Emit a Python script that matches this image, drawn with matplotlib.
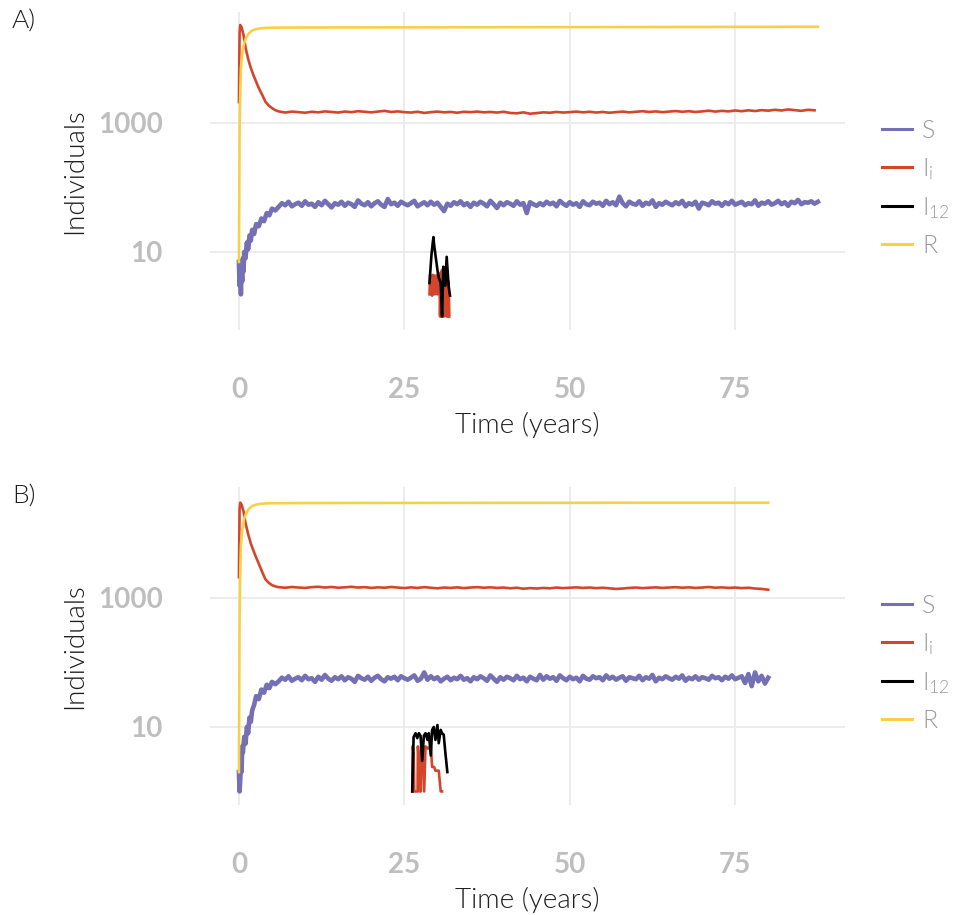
import numpy as np
import matplotlib
matplotlib.use("Agg")
import matplotlib.pyplot as plt
from matplotlib.lines import Line2D

plt.rcParams["font.family"] = ["Lato", "DejaVu Sans"]
plt.rcParams["mathtext.fontset"] = "custom"
plt.rcParams["mathtext.rm"] = "Lato:weight=300"
plt.rcParams["mathtext.it"] = "Lato:italic:weight=300"
LIGHT = 300   # Lato Light ('light' in mpl maps to 200 -> Thin)

# ---- panel A -------------------------------------------------------------
A_S_T0 = [0, 0.1, 0.2, 0.3, 0.4, 0.5, 0.6, 0.7, 0.8, 1.0, 1.2, 1.4, 1.6, 1.8,
          2.0, 2.3, 2.6, 3.0, 3.4, 3.8, 4.2, 4.6, 5.0, 5.5]
A_S_V0 = [7, 3, 6, 2.2, 5, 3.5, 8, 5, 10, 8, 14, 11, 18, 15,
          22, 19, 27, 25, 33, 30, 40, 37, 47, 44]
A_S_T1 = np.arange(6, 87.6, 0.5)       # half-year samples
A_S_V1 = [50, 57, 53, 60, 51, 55, 58, 52, 61, 54,
          56, 50, 59, 53, 62, 55, 49, 57, 54, 60,
          52, 58, 55, 50, 63, 56, 53, 59, 51, 57,
          61, 54, 50, 66, 55, 58, 52, 60, 56, 53,
          57, 62, 51, 55, 59, 53, 60, 54, 58, 50,
          43, 56, 52, 59, 55, 61, 53, 57, 50, 58,
          54, 60, 56, 51, 62, 55, 48, 58, 53, 59,
          56, 52, 61, 54, 57, 40, 59, 55, 52, 57,
          53, 60, 55, 58, 51, 62, 56, 52, 59, 54,
          57, 50, 61, 55, 53, 60, 56, 58, 52, 62,
          55, 59, 53, 72, 57, 51, 60, 56, 54, 61,
          52, 58, 55, 63, 50, 57, 54, 60, 56, 53,
          59, 55, 62, 51, 57, 54, 60, 47, 58, 56,
          53, 61, 56, 58, 52, 59, 55, 62, 54, 57,
          60, 53, 57, 55, 63, 52, 58, 56, 61, 54,
          57, 62, 55, 59, 52, 60, 57, 64, 55, 59,
          58, 61, 56, 60]

A_I_T0 = [0, 0.1, 0.2, 0.4, 0.7, 1.0, 1.4, 1.8, 2.2, 2.6, 3.0, 3.5, 4.0, 4.5, 5.0, 5.5]
A_I_V0 = [2100, 25000, 33000, 30500, 23000, 14800, 9800, 7100, 5500, 4360,
          3470, 2750, 2140, 1860, 1700, 1580]
A_I_T1 = np.arange(6, 88, 1)
A_I_V1 = [1510, 1450, 1500, 1470, 1440, 1490, 1460, 1510, 1480, 1450,
          1500, 1470, 1520, 1490, 1460, 1500, 1540, 1480, 1510, 1470,
          1450, 1490, 1430, 1470, 1500, 1460, 1480, 1440, 1490, 1470,
          1500, 1460, 1480, 1450, 1490, 1430, 1410, 1460, 1390, 1420,
          1460, 1440, 1480, 1450, 1470, 1500, 1460, 1490, 1450, 1480,
          1440, 1470, 1500, 1460, 1490, 1520, 1480, 1510, 1470, 1500,
          1530, 1490, 1520, 1480, 1510, 1550, 1500, 1540, 1510, 1560,
          1520, 1570, 1530, 1580, 1550, 1600, 1560, 1620, 1580, 1540,
          1600, 1570]

A_R_T = [0, 0.05, 0.1, 0.2, 0.3, 0.5, 0.8, 1.1, 1.5, 2.0, 2.6, 3.3, 4.0, 5, 7,
         10, 20, 40, 60, 80, 87.5]
A_R_V = [7, 60, 700, 3000, 7000, 12000, 17500, 21000, 24500, 27000, 28500,
         29300, 29700, 30000, 30100, 30200, 30300, 30500, 30700, 30900, 31000]

# second strain outbreak
A_I12_T = [28.8, 29.1, 29.3, 29.4, 29.5, 29.7, 30.0, 30.2, 30.5, 30.7, 30.9,
           31.2, 31.4, 31.7, 31.9]
A_I12_V = [3.3, 9, 14, 17, 13, 9, 5.3, 4, 3.3, 1, 5.9, 3, 8.4, 2.9, 2.1]
A_I2_T = [28.8, 28.9, 29.0, 29.1, 29.2, 29.3, 29.4, 29.5, 29.6, 29.7, 29.8,
          29.9, 30.0, 30.1, 30.2, 30.3, 30.4, 30.5, 30.6, 30.7, 30.8, 30.9,
          31.0, 31.1, 31.2, 31.3, 31.4, 31.5, 31.6, 31.7, 31.8]
A_I2_V = [2.2, 4.4, 2.3, 4.2, 2.1, 4.4, 2.4, 4.3, 2.2, 4.1, 2.3, 4.4, 2.2,
          4.0, 2.5, 4.3, 1, 4.8, 1, 5.3, 1, 4.5, 1, 5, 1.2, 4.6, 1, 4.2, 1, 3.5, 1]

# ---- panel B -------------------------------------------------------------
B_S_T0 = [0, 0.1, 0.2, 0.3, 0.4, 0.5, 0.6, 0.8, 1.0, 1.2, 1.4, 1.6, 1.8, 2.0,
          2.3, 2.6, 3.0, 3.4, 3.8, 4.2, 4.6, 5.0, 5.5]
B_S_V0 = [2, 1, 1.5, 3, 2, 5, 4, 7, 5.5, 10, 8, 14, 12, 18,
          22, 30, 27, 38, 34, 45, 40, 50, 46]
B_S_T1 = np.arange(6, 80.1, 0.5)
B_S_V1 = [51, 58, 54, 61, 52, 56, 59, 53, 62, 55,
          57, 50, 60, 54, 64, 56, 52, 59, 55, 61,
          53, 59, 56, 50, 62, 57, 54, 60, 52, 58,
          62, 55, 51, 59, 56, 60, 53, 61, 57, 54,
          58, 63, 52, 56, 70, 54, 61, 55, 59, 51,
          56, 60, 53, 58, 55, 62, 54, 57, 51, 59,
          55, 61, 57, 52, 63, 56, 50, 59, 54, 60,
          57, 53, 62, 55, 58, 51, 60, 56, 53, 64,
          54, 61, 56, 59, 52, 63, 57, 53, 60, 55,
          58, 51, 62, 56, 54, 61, 57, 59, 53, 63,
          56, 60, 54, 58, 61, 52, 59, 57, 55, 62,
          53, 59, 56, 64, 51, 58, 55, 61, 57, 54,
          60, 56, 63, 52, 58, 55, 61, 54, 59, 57,
          54, 62, 57, 59, 53, 60, 56, 63, 55, 58,
          61, 48, 66, 43, 70, 51, 62, 47, 58]

B_I_T0 = [0, 0.1, 0.2, 0.4, 0.7, 1.0, 1.4, 1.8, 2.2, 2.6, 3.0, 3.5, 4.0, 4.5, 5.0, 5.5]
B_I_V0 = [2100, 24000, 30000, 28000, 22000, 14500, 9700, 7000, 5400, 4250,
          3400, 2550, 1950, 1720, 1580, 1510]
B_I_T1 = np.arange(6, 81, 1)
B_I_V1 = [1470, 1440, 1480, 1450, 1430, 1470, 1490, 1450, 1480, 1440,
          1460, 1490, 1450, 1470, 1430, 1460, 1440, 1480, 1450, 1420,
          1460, 1430, 1470, 1440, 1410, 1450, 1430, 1460, 1420, 1450,
          1470, 1440, 1460, 1430, 1450, 1410, 1440, 1390, 1420, 1400,
          1430, 1410, 1450, 1420, 1440, 1460, 1430, 1450, 1420, 1440,
          1410, 1380, 1400, 1430, 1450, 1420, 1440, 1460, 1430, 1450,
          1470, 1440, 1460, 1430, 1450, 1480, 1440, 1460, 1430, 1450,
          1420, 1440, 1400, 1380, 1340]

B_R_T = [0, 0.05, 0.1, 0.2, 0.3, 0.5, 0.8, 1.1, 1.5, 2.0, 2.6, 3.3, 4.0, 5, 7,
         10, 20, 40, 60, 80]
B_R_V = [2, 30, 500, 2500, 6500, 11500, 17000, 20500, 24000, 26500, 28000,
         28800, 29200, 29400, 29500, 29600, 29700, 29800, 29900, 29900]

B_I12_T = [26.2, 26.4, 26.7, 26.95, 27.2, 27.45, 27.7, 27.95, 28.2, 28.5,
           28.7, 29.0, 29.2, 29.45, 29.7, 30.0, 30.2, 30.5, 30.7, 30.95, 31.2, 31.5]
B_I12_V = [1, 7, 8, 6.7, 8, 7.3, 3, 7.3, 8, 6.3, 8, 3.6, 9, 10, 6.3, 10.7,
           5.6, 9, 8, 7.6, 4, 2]
B_I2_T = [26.2, 26.25, 26.4, 26.5, 27.0, 27.05, 27.2, 27.3, 27.5, 27.55, 27.8,
          28.0, 28.2, 28.6, 29.0, 29.2, 29.5, 29.7, 30.2, 30.5, 30.7]
B_I2_V = [1, 5, 4, 1, 1, 5, 3, 1, 1, 5, 5, 1, 5, 4.6, 5, 2.4, 2.4, 2.1, 2.1, 1, 1]

C_S, C_I, C_I12, C_R = "#7570B3", "#D4462C", "#000000", "#F8D048"
GRID = "#EBEBEB"
TICK = "#BEBEBE"
LEG_TXT = "#9A9A9A"
DARK = "#1E1E1E"

PANELS = [
    ("A)", (A_S_T0, A_S_V0, A_S_T1, A_S_V1), (A_I_T0, A_I_V0, A_I_T1, A_I_V1),
     (A_R_T, A_R_V), (A_I12_T, A_I12_V), (A_I2_T, A_I2_V)),
    ("B)", (B_S_T0, B_S_V0, B_S_T1, B_S_V1), (B_I_T0, B_I_V0, B_I_T1, B_I_V1),
     (B_R_T, B_R_V), (B_I12_T, B_I12_V), (B_I2_T, B_I2_V)),
]


def _cat(parts):
    t0, v0, t1, v1 = parts
    return list(t0) + list(t1), list(v0) + list(v1)


fig = plt.figure(figsize=(9.54, 9.15), dpi=100)
W, H = 954, 915
tops = [12, 487]
for (tag, s, i, r, i12, i2), top in zip(PANELS, tops):
    ax = fig.add_axes([210 / W, 1 - (top + 318) / H, 635 / W, 318 / H])
    ax.set_yscale("log")
    st, sv = _cat(s)
    it, iv = _cat(i)
    lw = 1.9
    ax.plot(st, sv, color=C_S, lw=3.3, zorder=3)
    ax.plot(it, iv, color=C_I, lw=lw, zorder=3)
    ax.plot(i2[0], i2[1], color=C_I, lw=lw, zorder=3)
    ax.plot(i12[0], i12[1], color=C_I12, lw=lw, zorder=4)
    ax.plot(r[0], r[1], color=C_R, lw=lw, zorder=3)

    ax.set_xlim(-4.37, 91.6)
    ax.set_ylim(10 ** -0.21, 10 ** 4.72)
    ax.set_xticks([0, 25, 50, 75])
    ax.set_yticks([10, 1000])
    ax.set_yticklabels(["10", "1000"])
    ax.minorticks_off()
    ax.grid(True, color=GRID, lw=1.3)
    ax.set_axisbelow(True)
    for sp in ax.spines.values():
        sp.set_visible(False)
    ax.tick_params(length=0, pad=34, labelsize=20, labelcolor=TICK)
    for lab in ax.get_xticklabels() + ax.get_yticklabels():
        lab.set_fontweight("bold")
    ax.set_xlabel("Time (years)", fontsize=20, fontweight=LIGHT, color=DARK,
                  labelpad=6)
    ax.set_ylabel("Individuals", fontsize=20, fontweight=LIGHT, color=DARK,
                  labelpad=8)
    fig.text(12 / W, 1 - (top + 10) / H, tag, fontsize=19, fontweight=LIGHT,
             color=DARK, va="center", ha="left")

    handles = [Line2D([], [], color=c, lw=2.2) for c in (C_S, C_I, C_I12, C_R)]
    labels = ["S", r"$\mathrm{I}_{\mathrm{i}}$", r"$\mathrm{I}_{\mathrm{12}}$", "R"]
    leg = ax.legend(handles, labels, loc="center left",
                    bbox_to_anchor=(882 / W, 1 - (top + 176.5) / H),
                    bbox_transform=fig.transFigure, frameon=False,
                    fontsize=18, handlelength=1.2, handletextpad=0.4,
                    labelspacing=0.52, borderpad=0, borderaxespad=0)
    for t in leg.get_texts():
        t.set_color(LEG_TXT)
        t.set_fontweight(LIGHT)

fig.savefig("out.png", dpi=100)
